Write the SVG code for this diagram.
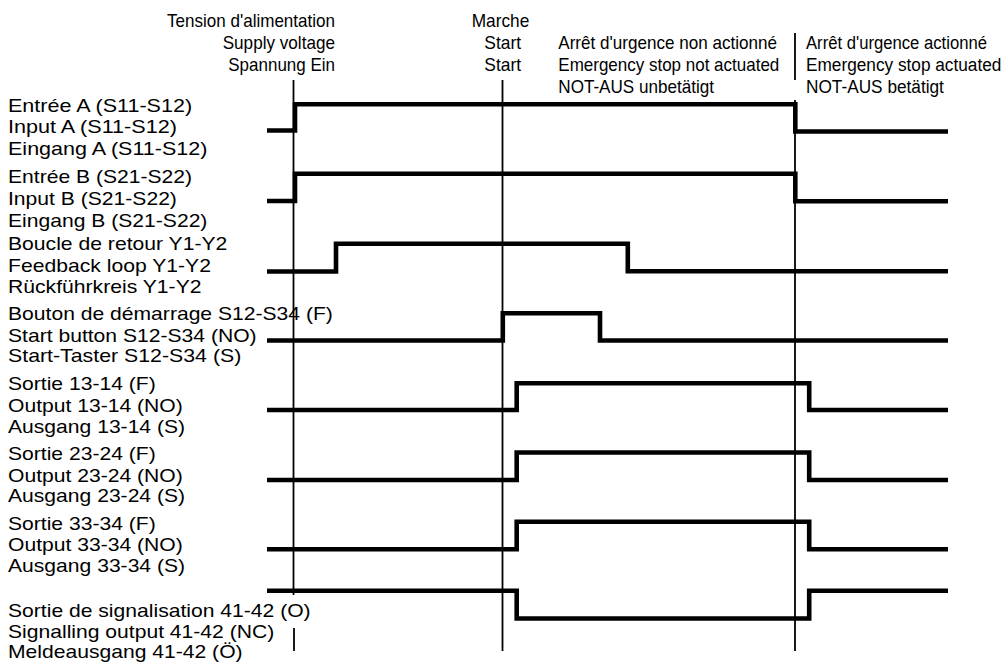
<svg xmlns="http://www.w3.org/2000/svg" width="1004" height="662" viewBox="0 0 1004 662">
<style>
text{font-family:"Liberation Sans",Arial,Helvetica,sans-serif;font-size:19px;fill:#000}
.thin{stroke:#000;stroke-width:1.8;fill:none}
.sig{stroke:#000;stroke-width:4.6;fill:none;stroke-linejoin:miter;stroke-linecap:butt}
</style>
<rect width="1004" height="662" fill="#fff"/>
<g id="header-supply">
<text x="167" y="26.7" textLength="168" lengthAdjust="spacingAndGlyphs">Tension d'alimentation</text>
<text x="222.7" y="48.5" textLength="112.3" lengthAdjust="spacingAndGlyphs">Supply voltage</text>
<text x="228.3" y="70.6" textLength="106.7" lengthAdjust="spacingAndGlyphs">Spannung Ein</text>
</g>
<g id="header-start">
<text x="471.7" y="26.7" textLength="57.6" lengthAdjust="spacingAndGlyphs">Marche</text>
<text x="484.3" y="49" textLength="36.7" lengthAdjust="spacingAndGlyphs">Start</text>
<text x="484.3" y="71.2" textLength="36.7" lengthAdjust="spacingAndGlyphs">Start</text>
</g>
<g id="header-not-actuated">
<text x="558.3" y="49" textLength="218.7" lengthAdjust="spacingAndGlyphs">Arrêt d'urgence non actionné</text>
<text x="558.3" y="71.2" textLength="221" lengthAdjust="spacingAndGlyphs">Emergency stop not actuated</text>
<text x="558.3" y="93.4" textLength="155.7" lengthAdjust="spacingAndGlyphs">NOT-AUS unbetätigt</text>
</g>
<g id="header-actuated">
<text transform="translate(806 49) scale(0.877 1)" x="0" y="0">Arrêt d'urgence actionné</text>
<text transform="translate(806 71.2) scale(0.908 1)" x="0" y="0">Emergency stop actuated</text>
<text transform="translate(806 93.4) scale(0.908 1)" x="0" y="0">NOT-AUS betätigt</text>
</g>
<g id="label-A">
<text x="8" y="111.7" textLength="184.1" lengthAdjust="spacingAndGlyphs">Entrée A (S11-S12)</text>
<text x="8" y="133.3" textLength="168.9" lengthAdjust="spacingAndGlyphs">Input A (S11-S12)</text>
<text x="8" y="155" textLength="199.4" lengthAdjust="spacingAndGlyphs">Eingang A (S11-S12)</text>
</g>
<g id="label-B">
<text x="8" y="183.3" textLength="184.1" lengthAdjust="spacingAndGlyphs">Entrée B (S21-S22)</text>
<text x="8" y="205" textLength="168.9" lengthAdjust="spacingAndGlyphs">Input B (S21-S22)</text>
<text x="8" y="226.7" textLength="199.4" lengthAdjust="spacingAndGlyphs">Eingang B (S21-S22)</text>
</g>
<g id="label-C">
<text x="8" y="250" textLength="219.3" lengthAdjust="spacingAndGlyphs">Boucle de retour Y1-Y2</text>
<text x="8" y="271.7" textLength="202.9" lengthAdjust="spacingAndGlyphs">Feedback loop Y1-Y2</text>
<text x="8" y="293.3" textLength="193.5" lengthAdjust="spacingAndGlyphs">Rückführkreis Y1-Y2</text>
</g>
<g id="label-D">
<text x="8" y="320" textLength="324.9" lengthAdjust="spacingAndGlyphs">Bouton de démarrage S12-S34 (F)</text>
<text x="8" y="341.7" textLength="248.6" lengthAdjust="spacingAndGlyphs">Start button S12-S34 (NO)</text>
<text x="8" y="362" textLength="233.3" lengthAdjust="spacingAndGlyphs">Start-Taster S12-S34 (S)</text>
</g>
<g id="label-E">
<text x="8" y="390" textLength="147.7" lengthAdjust="spacingAndGlyphs">Sortie 13-14 (F)</text>
<text x="8" y="411.7" textLength="174.7" lengthAdjust="spacingAndGlyphs">Output 13-14 (NO)</text>
<text x="8" y="433" textLength="177.1" lengthAdjust="spacingAndGlyphs">Ausgang 13-14 (S)</text>
</g>
<g id="label-F">
<text x="8" y="460" textLength="147.7" lengthAdjust="spacingAndGlyphs">Sortie 23-24 (F)</text>
<text x="8" y="481.7" textLength="174.7" lengthAdjust="spacingAndGlyphs">Output 23-24 (NO)</text>
<text x="8" y="502" textLength="177.1" lengthAdjust="spacingAndGlyphs">Ausgang 23-24 (S)</text>
</g>
<g id="label-G">
<text x="8" y="530" textLength="147.7" lengthAdjust="spacingAndGlyphs">Sortie 33-34 (F)</text>
<text x="8" y="550.5" textLength="174.7" lengthAdjust="spacingAndGlyphs">Output 33-34 (NO)</text>
<text x="8" y="571.7" textLength="177.1" lengthAdjust="spacingAndGlyphs">Ausgang 33-34 (S)</text>
</g>
<g id="label-H">
<text x="8" y="616.7" textLength="302.6" lengthAdjust="spacingAndGlyphs">Sortie de signalisation 41-42 (O)</text>
<text x="8" y="638.3" textLength="266.2" lengthAdjust="spacingAndGlyphs">Signalling output 41-42 (NC)</text>
<text x="8" y="658.3" textLength="234.6" lengthAdjust="spacingAndGlyphs">Meldeausgang 41-42 (Ö)</text>
</g>
<g id="markers">
<line class="thin" x1="293.5" y1="80" x2="293.5" y2="595"/>
<line class="thin" x1="294" y1="628" x2="294" y2="651"/>
<line class="thin" x1="502.5" y1="80" x2="502.5" y2="651"/>
<line class="thin" x1="795" y1="33" x2="795" y2="80"/>
<line class="thin" x1="795" y1="100" x2="795" y2="651"/>
</g>
<g id="signals">
<path class="sig" d="M267 130.5 H295 V104.3 H795.3 V131.5 H948"/>
<path class="sig" d="M267 201 H295 V173.7 H795.3 V201.2 H948"/>
<path class="sig" d="M267 271.5 H336 V243.7 H627.8 V271.2 H948"/>
<path class="sig" d="M267 340.5 H502.8 V313.2 H600 V340.5 H948"/>
<path class="sig" d="M267 410 H516.7 V383.2 H809.2 V410 H948"/>
<path class="sig" d="M267 480 H516.7 V452.5 H809.2 V480 H948"/>
<path class="sig" d="M267 549.2 H516.7 V521.8 H809.2 V549.2 H948"/>
<path class="sig" d="M267 590.8 H516.7 V618.5 H809.2 V590.8 H948"/>
</g>
</svg>
